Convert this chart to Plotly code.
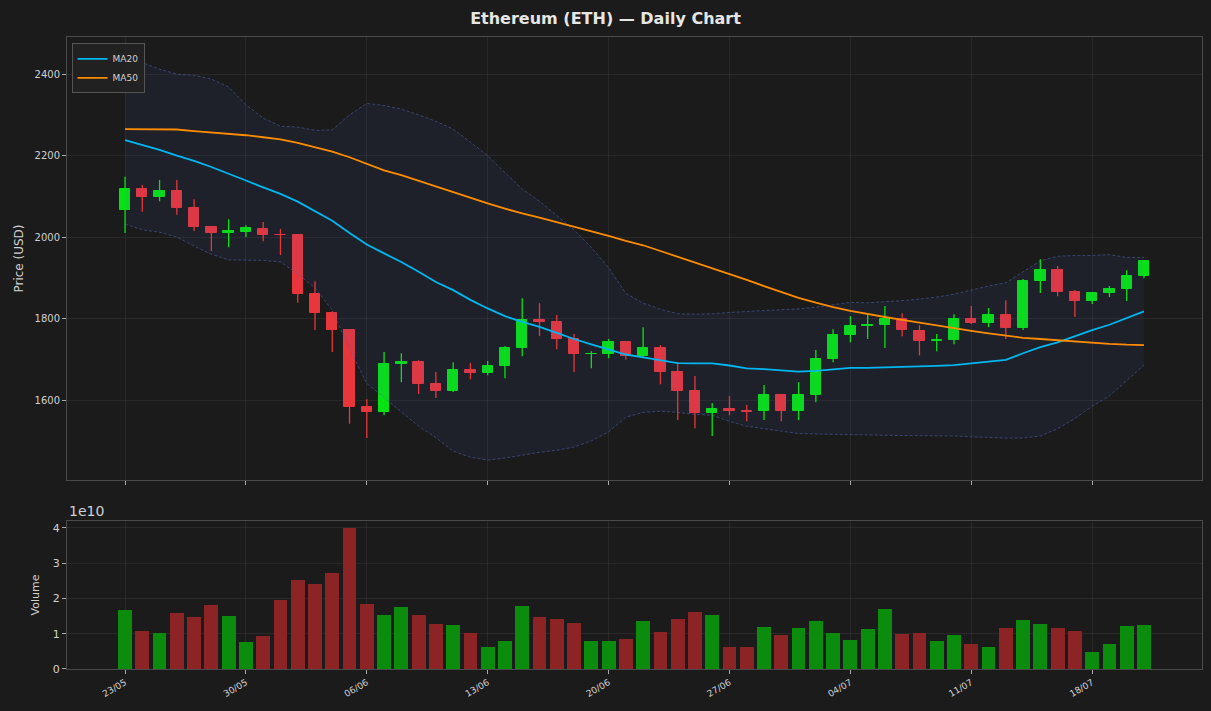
import pandas as pd
import plotly.graph_objects as go
from plotly.subplots import make_subplots

# ---------------- data ----------------
start_date = "2023-05-23"
n_days = 60

open_ = [2067, 2118, 2098, 2113, 2071, 2024, 2010, 2012, 2020, 2006,
         2005, 1861, 1814, 1772, 1583, 1570, 1688, 1693, 1639, 1622,
         1674, 1666, 1683, 1728, 1796, 1791, 1750, 1713, 1713, 1742,
         1708, 1728, 1669, 1622, 1568, 1578, 1573, 1573, 1612, 1573,
         1612, 1700, 1759, 1782, 1784, 1799, 1770, 1745, 1747, 1799,
         1789, 1809, 1777, 1892, 1919, 1865, 1843, 1863, 1872, 1905]
high = [2148, 2128, 2140, 2140, 2093, 2027, 2044, 2029, 2037, 2020,
        2005, 1892, 1818, 1774, 1602, 1718, 1715, 1698, 1669, 1693,
        1691, 1696, 1733, 1850, 1838, 1809, 1762, 1720, 1750, 1742,
        1779, 1735, 1693, 1659, 1593, 1610, 1588, 1637, 1615, 1644,
        1723, 1774, 1806, 1809, 1831, 1813, 1784, 1762, 1811, 1831,
        1826, 1845, 1897, 1946, 1929, 1870, 1865, 1880, 1919, 1944]
low = [2010, 2062, 2088, 2055, 2015, 1966, 1975, 2000, 1990, 1956,
       1839, 1772, 1718, 1542, 1507, 1563, 1644, 1615, 1605, 1620,
       1651, 1661, 1654, 1708, 1757, 1725, 1669, 1678, 1703, 1700,
       1705, 1639, 1551, 1531, 1512, 1563, 1548, 1551, 1548, 1551,
       1595, 1693, 1742, 1750, 1728, 1757, 1710, 1720, 1737, 1787,
       1779, 1750, 1772, 1863, 1855, 1804, 1836, 1853, 1843, 1899]
close = [2118, 2098, 2113, 2071, 2024, 2010, 2014, 2022, 2005, 2004,
         1861, 1814, 1772, 1583, 1571, 1688, 1693, 1639, 1622, 1674,
         1666, 1683, 1728, 1796, 1791, 1750, 1713, 1714, 1742, 1708,
         1728, 1669, 1622, 1568, 1578, 1573, 1572, 1612, 1573, 1612,
         1700, 1759, 1782, 1784, 1799, 1772, 1745, 1747, 1799, 1789,
         1809, 1777, 1892, 1919, 1865, 1843, 1863, 1872, 1905, 1941]

# volume in units of 1e10
volume_e10 = [1.67, 1.07, 1.02, 1.59, 1.47, 1.81, 1.50, 0.76, 0.93, 1.95,
              2.52, 2.41, 2.72, 4.00, 1.84, 1.53, 1.76, 1.53, 1.27, 1.25,
              1.02, 0.62, 0.79, 1.78, 1.47, 1.42, 1.30, 0.79, 0.79, 0.85,
              1.36, 1.05, 1.42, 1.61, 1.53, 0.62, 0.62, 1.19, 0.96, 1.16,
              1.36, 1.02, 0.82, 1.13, 1.70, 0.99, 1.02, 0.79, 0.96, 0.71,
              0.62, 1.16, 1.39, 1.27, 1.16, 1.08, 0.48, 0.71, 1.22, 1.25]

ma20 = [2238, 2226, 2214, 2200, 2187, 2172, 2156, 2139, 2122, 2106,
        2087, 2063, 2040, 2010, 1982, 1960, 1939, 1915, 1890, 1870,
        1846, 1825, 1806, 1792, 1780, 1765, 1750, 1737, 1725, 1712,
        1705, 1698, 1691, 1690, 1690, 1685, 1678, 1676, 1673, 1670,
        1672, 1676, 1679, 1679, 1680, 1681, 1682, 1684, 1686, 1690,
        1694, 1699, 1715, 1730, 1742, 1757, 1772, 1785, 1801, 1818]
ma50 = [2265, 2265, 2265, 2264, 2260, 2257, 2254, 2250, 2245, 2240,
        2231, 2221, 2210, 2196, 2180, 2164, 2152, 2138, 2124, 2110,
        2096, 2083, 2070, 2058, 2048, 2037, 2026, 2014, 2003, 1991,
        1980, 1966, 1952, 1938, 1924, 1910, 1895, 1880, 1865, 1851,
        1839, 1828, 1819, 1811, 1804, 1797, 1790, 1783, 1776, 1770,
        1764, 1758, 1753, 1750, 1747, 1743, 1740, 1738, 1736, 1735]
bb_upper = [2437, 2428, 2412, 2400, 2397, 2388, 2368, 2325, 2292, 2272,
            2270, 2262, 2263, 2300, 2328, 2323, 2314, 2300, 2284, 2265,
            2233, 2200, 2158, 2118, 2088, 2054, 2018, 1975, 1925, 1862,
            1838, 1823, 1812, 1811, 1812, 1815, 1818, 1820, 1822, 1824,
            1828, 1834, 1840, 1839, 1841, 1844, 1848, 1853, 1860, 1870,
            1880, 1888, 1915, 1942, 1953, 1955, 1955, 1957, 1950, 1950]
bb_lower = [2032, 2018, 2012, 2000, 1978, 1958, 1944, 1944, 1943, 1939,
            1910, 1875, 1821, 1725, 1641, 1606, 1570, 1536, 1508, 1475,
            1460, 1453, 1458, 1465, 1472, 1477, 1485, 1500, 1522, 1558,
            1570, 1573, 1570, 1565, 1563, 1548, 1536, 1530, 1524, 1518,
            1517, 1516, 1515, 1514, 1514, 1513, 1513, 1513, 1512, 1510,
            1508, 1507, 1507, 1512, 1530, 1555, 1585, 1610, 1648, 1686]

tick_labels = ["23/05", "30/05", "06/06", "13/06", "20/06", "27/06", "04/07", "11/07", "18/07"]

# ---------------- styling ----------------
BG = "#1b1b1b"
TXT = "#d0d0d0"
UP = "#06e312"
DOWN = "#e8363c"
VUP = "rgba(12,140,12,1)"
VDOWN = "rgba(140,36,38,1)"
GRID = "rgba(255,255,255,0.06)"
FRAME = "#4a4a4a"
FONT = "DejaVu Sans"

dates = pd.date_range(start_date, periods=n_days, freq="D")
day_ms = 86400000
up_flags = [c >= o for o, c in zip(open_, close)]
cols = [UP if u else DOWN for u in up_flags]
vcols = [VUP if u else VDOWN for u in up_flags]

fig = make_subplots(rows=2, cols=1, shared_xaxes=False, vertical_spacing=0.0,
                    row_heights=[0.7, 0.3])

# Bollinger band
band_line = dict(color="rgba(75,95,170,0.6)", width=1, dash="3px,2px")
fig.add_trace(go.Scatter(x=dates, y=bb_upper, mode="lines", line=band_line,
                         showlegend=False, hoverinfo="skip"), row=1, col=1)
fig.add_trace(go.Scatter(x=dates, y=bb_lower, mode="lines", fill="tonexty",
                         fillcolor="rgba(80,100,200,0.09)", line=band_line,
                         showlegend=False, hoverinfo="skip"), row=1, col=1)

# wicks
for flag, col in [(True, UP), (False, DOWN)]:
    wx, wy = [], []
    for d, h, l, u in zip(dates, high, low, up_flags):
        if u == flag:
            wx += [d, d, None]
            wy += [l, h, None]
    fig.add_trace(go.Scatter(x=wx, y=wy, mode="lines", line=dict(color=col, width=1.3),
                             showlegend=False, hoverinfo="skip"), row=1, col=1)

# bodies
base = [min(o, c) for o, c in zip(open_, close)]
height = [abs(c - o) for o, c in zip(open_, close)]
fig.add_trace(go.Bar(x=dates, y=height, base=base, width=0.6 * day_ms,
                     marker=dict(color=cols, line=dict(color=cols, width=1)),
                     showlegend=False, hoverinfo="skip"), row=1, col=1)

# moving averages
fig.add_trace(go.Scatter(x=dates, y=ma20, mode="lines", name="MA20",
                         line=dict(color="#00b7f1", width=1.8)), row=1, col=1)
fig.add_trace(go.Scatter(x=dates, y=ma50, mode="lines", name="MA50",
                         line=dict(color="#ff8c00", width=1.8)), row=1, col=1)

# volume
fig.add_trace(go.Bar(x=dates, y=[v * 1e10 for v in volume_e10], width=0.8 * day_ms,
                     marker=dict(color=vcols, line=dict(width=0)),
                     showlegend=False, hoverinfo="skip"), row=2, col=1)

x0 = dates[0] - pd.Timedelta(days=3.36)
x1 = dates[0] + pd.Timedelta(days=62.36)
tickvals = [dates[0] + pd.Timedelta(days=7 * k) for k in range(len(tick_labels))]

axis_common = dict(showline=True, linecolor=FRAME, linewidth=1, mirror=True,
                   gridcolor=GRID, gridwidth=1, zeroline=False,
                   ticks="outside", ticklen=4, tickcolor="#aaaaaa",
                   tickfont=dict(color=TXT, size=11, family=FONT))

fig.update_xaxes(**axis_common, range=[x0, x1], tickvals=tickvals, ticktext=tick_labels)
fig.update_xaxes(showticklabels=False, row=1, col=1)
fig.update_xaxes(tickangle=-30, tickfont=dict(size=9, color=TXT, family=FONT), row=2, col=1)

fig.update_yaxes(**axis_common)
fig.update_yaxes(range=[1404, 2491], tickvals=[1600, 1800, 2000, 2200, 2400],
                 title=dict(text="Price (USD)", font=dict(color=TXT, size=12, family=FONT), standoff=8),
                 tickfont=dict(size=10, color=TXT, family=FONT),
                 row=1, col=1)
fig.update_yaxes(range=[0, 4.19e10], tickvals=[0, 1e10, 2e10, 3e10, 4e10],
                 ticktext=["0", "1", "2", "3", "4"],
                 title=dict(text="Volume", font=dict(color=TXT, size=11, family=FONT), standoff=10),
                 tickfont=dict(size=11, color=TXT, family=FONT),
                 row=2, col=1)

fig.layout.yaxis.domain = [0.299, 1.0]
fig.layout.yaxis2.domain = [0.0, 0.2342]

fig.add_annotation(text="1e10", xref="paper", yref="paper", x=0.0, y=0.2342,
                   xanchor="left", yanchor="bottom", showarrow=False, yshift=0,
                   font=dict(color=TXT, size=14, family=FONT))

fig.update_layout(
    width=1211, height=711,
    paper_bgcolor=BG, plot_bgcolor=BG,
    margin=dict(l=67, r=9, t=37, b=42),
    barmode="overlay", bargap=0,
    title=dict(text="<b>Ethereum (ETH) — Daily Chart</b>", x=0.5, xanchor="center",
               y=1 - 18 / 711, yanchor="middle",
               font=dict(color="#e6e6e6", size=16, family=FONT)),
    legend=dict(x=0.004, y=0.99, xanchor="left", yanchor="top",
                traceorder="normal",
                bgcolor="rgba(34,34,34,0.9)", bordercolor="#555555", borderwidth=1,
                font=dict(color=TXT, size=9, family=FONT),
                itemwidth=30, tracegroupgap=0),
    font=dict(family=FONT, color=TXT),
)

fig.write_html("out.html")
